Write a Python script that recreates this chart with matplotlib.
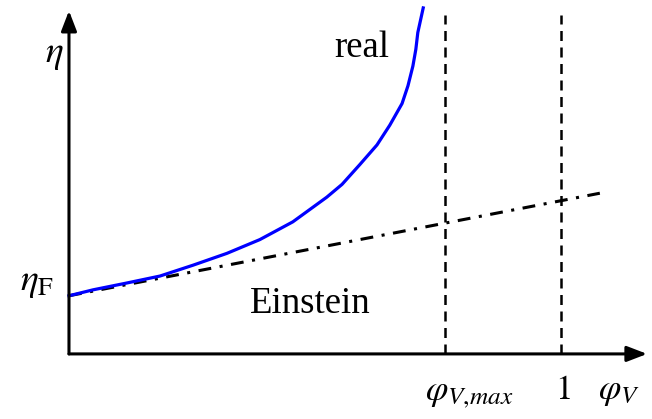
import numpy as np
import matplotlib
matplotlib.use("Agg")
import matplotlib.pyplot as plt

# curva real (viscosidad vs fraccion volumetrica)
phi_real = [0.0, 0.049, 0.118, 0.185, 0.252, 0.321, 0.388, 0.455, 0.524, 0.555,
            0.591, 0.626, 0.652, 0.677, 0.689, 0.699, 0.705, 0.709, 0.720]
eta_real = [1.0, 1.102, 1.220, 1.339, 1.525, 1.729, 1.966, 2.271, 2.695, 2.915,
            3.254, 3.593, 3.932, 4.305, 4.610, 4.949, 5.237, 5.525, 5.949]

# recta de Einstein
phi_einstein = [0.0, 1.079]
eta_einstein = [1.0, 2.763]

# posiciones de las verticales
phi_max = 0.764
phi_one = 1.0
v_top = 5.83

plt.rcParams["mathtext.fontset"] = "stix"
plt.rcParams["font.family"] = ["Liberation Serif", "DejaVu Serif"]

fig = plt.figure(figsize=(6.52, 4.19), dpi=100)
ax = fig.add_axes([0, 0, 1, 1])
ax.set_xlim(-0.1402, 1.185)
ax.set_ylim(-1.119, 6.085)
ax.axis("off")

# ejes con flecha
arrow = dict(arrowstyle="-|>,head_length=0.61,head_width=0.235", color="black",
             lw=2.2, mutation_scale=20, shrinkA=0, shrinkB=0)
ax.annotate("", xy=(1.175, 0), xytext=(0, 0), arrowprops=arrow)
ax.annotate("", xy=(0, 5.90), xytext=(0, 0), arrowprops=arrow)

ax.plot([phi_max, phi_max], [0, v_top], color="black", lw=1.8, dashes=(4, 2.6))
ax.plot([phi_one, phi_one], [0, v_top], color="black", lw=1.8, dashes=(4, 2.6))

ax.plot(phi_einstein, eta_einstein, color="black", lw=2.2,
        dashes=(4.2, 2.8, 1, 2.8))
ax.plot(phi_real, eta_real, color="#0000ff", lw=2.3, solid_joinstyle="round")

# textos
ax.text(-0.030, 5.14, r"$\eta$", fontsize=27, ha="center", va="center")
ax.text(-0.064, 1.22, r"$\eta_{\mathrm{F}}$", fontsize=27, ha="center", va="center")
ax.text(0.596, 5.10, "real", fontsize=26.5, ha="center", va="baseline")
ax.text(0.490, 0.695, "Einstein", fontsize=26.5, ha="center", va="baseline")
ax.text(0.724, -0.78, r"$\varphi_{V{,}max}$", fontsize=26, ha="left", va="baseline")
ax.text(1.004, -0.78, r"$1$", fontsize=25, ha="center", va="baseline")
ax.text(1.075, -0.78, r"$\varphi_{V}$", fontsize=26, ha="left", va="baseline")

fig.savefig("out.png", dpi=100)
